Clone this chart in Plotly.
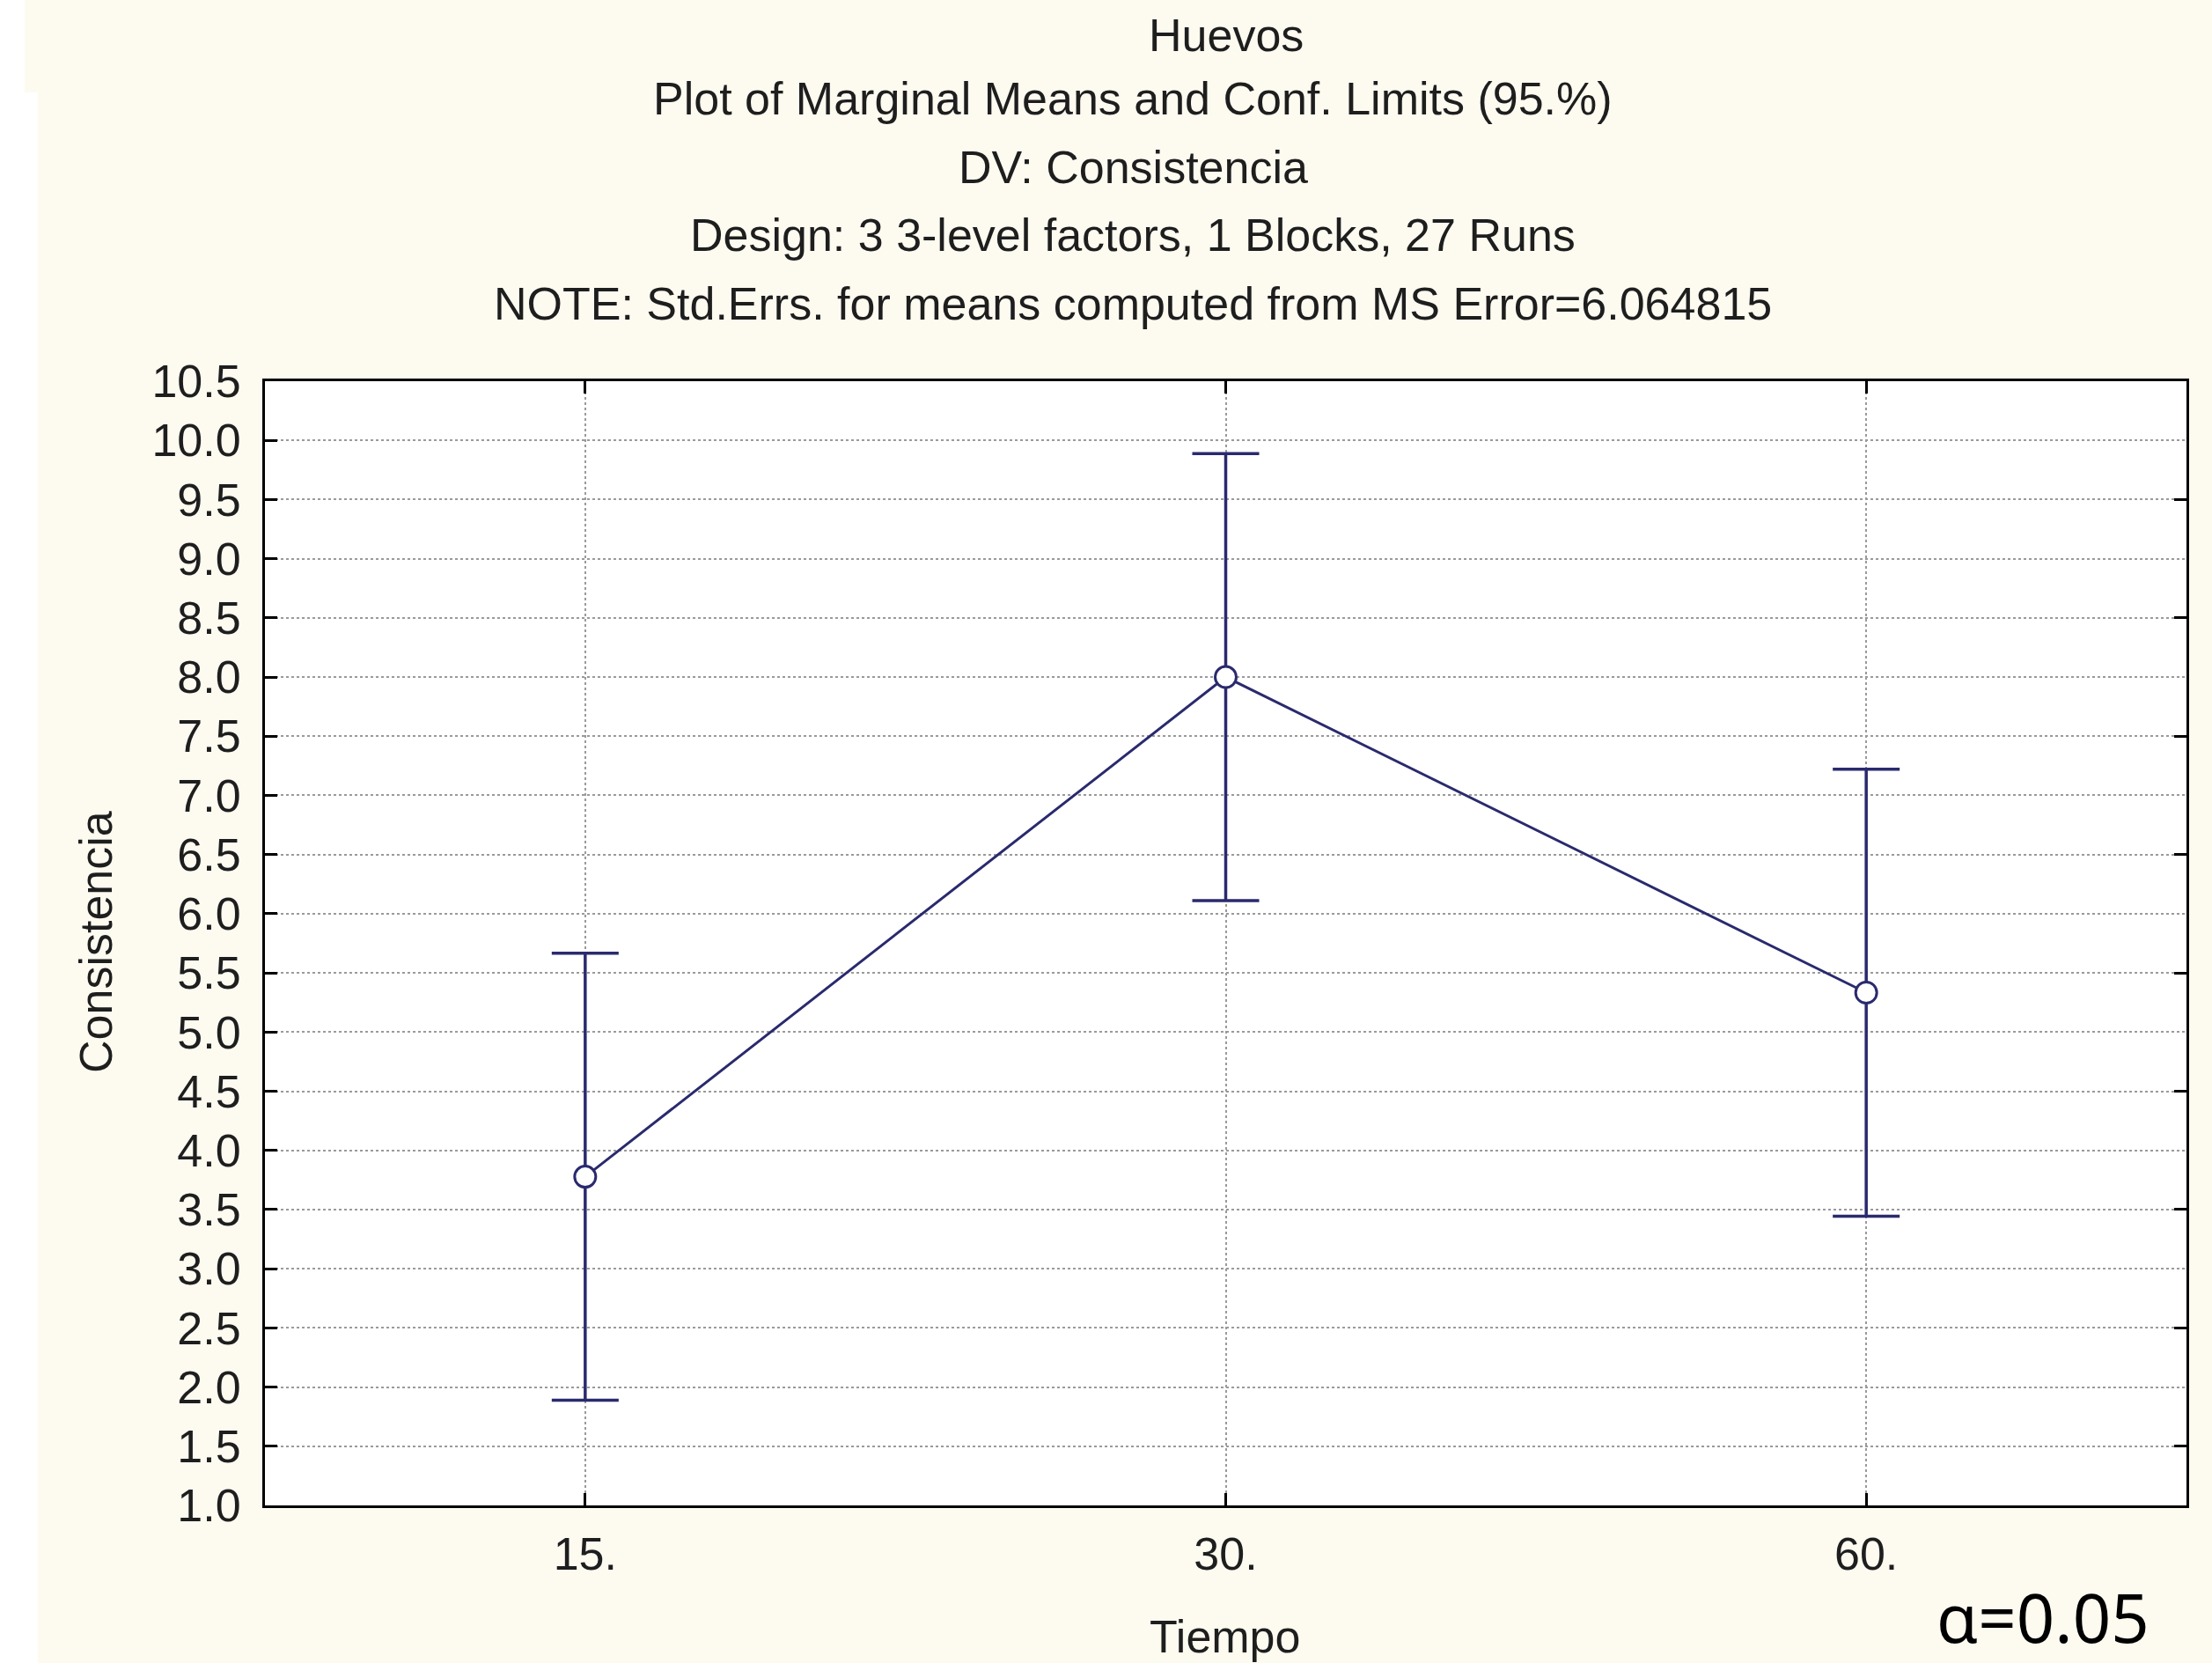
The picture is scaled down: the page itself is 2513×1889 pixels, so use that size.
import plotly.graph_objects as go

# ---- data ----
tiempo = ["15.", "30.", "60."]
means = [3.7778, 8.0, 5.3333]
ci_upper = [5.666, 9.889, 7.222]
ci_lower = [1.889, 6.111, 3.444]

title_lines = [
    "Plot of Marginal Means and Conf. Limits (95.%)",
    "DV: Consistencia",
    "Design: 3 3-level factors, 1 Blocks, 27 Runs",
    "NOTE: Std.Errs. for means computed from MS Error=6.064815",
]
main_title = "Huevos"
y_ticks = [1.0 + 0.5 * i for i in range(20)]
y_right_ticks = [1.5 + 1.0 * i for i in range(9)]

W, H = 2513, 1889
L, R, T, B = 301, 29, 433, 179
pw, ph = W - L - R, H - T - B

def px(x):
    return (x - L) / pw

def py(y):
    return (H - B - y) / ph

navy = "#2A2A6E"
font = "Liberation Sans, Arial, sans-serif"
txt = "#1E1E1E"
fs = 52

err_plus = [u - m for u, m in zip(ci_upper, means)]
err_minus = [m - l for m, l in zip(means, ci_lower)]

fig = go.Figure()
fig.add_trace(go.Scatter(
    x=tiempo, y=means, mode="lines+markers",
    line=dict(color=navy, width=3),
    marker=dict(symbol="circle", size=24, color="white", line=dict(color=navy, width=3)),
    error_y=dict(type="data", symmetric=False, array=err_plus, arrayminus=err_minus,
                 color=navy, thickness=3.5, width=38),
    showlegend=False,
))
# invisible trace for right-side ticks
fig.add_trace(go.Scatter(x=tiempo, y=means, yaxis="y2", mode="markers",
                         marker=dict(opacity=0), showlegend=False, hoverinfo="skip"))

fig.update_layout(
    width=W, height=H,
    margin=dict(l=L, r=R, t=T, b=B, autoexpand=False),
    paper_bgcolor="#FDFAF0",
    plot_bgcolor="white",
    font=dict(family=font, size=fs, color=txt),
    xaxis=dict(
        type="category", categoryorder="array", categoryarray=tiempo,
        range=[-0.5, 2.5], showline=True, linecolor="black", linewidth=3,
        mirror="ticks", ticks="inside", ticklen=14, tickwidth=3, tickcolor="black",
        showgrid=True, gridcolor="#9A9A9A", griddash="dot", gridwidth=2,
        tickfont=dict(size=fs, color=txt), zeroline=False, ticklabelstandoff=8,
    ),
    yaxis=dict(
        range=[1.0, 10.5], tickvals=y_ticks, ticktext=[f"{v:.1f}" for v in y_ticks],
        showline=True, linecolor="black", linewidth=3, mirror=True,
        ticks="inside", ticklen=14, tickwidth=3, tickcolor="black",
        showgrid=True, gridcolor="#9A9A9A", griddash="dot", gridwidth=2,
        tickfont=dict(size=fs, color=txt), zeroline=False, ticklabelstandoff=14,
    ),
    yaxis2=dict(
        overlaying="y", side="right", range=[1.0, 10.5], tickvals=y_right_ticks,
        showticklabels=False, ticks="inside", ticklen=14, tickwidth=3, tickcolor="black",
        showgrid=False, zeroline=False, showline=False,
    ),
)

annotations = [
    dict(text=main_title, x=0.5, y=py(40)),
]
for i, line in enumerate(title_lines):
    annotations.append(dict(text=line, x=px(1287), y=py(112 + 77.5 * i)))
for a in annotations:
    a.update(xref="paper", yref="paper", xanchor="center", yanchor="middle",
             showarrow=False, font=dict(size=fs, color=txt, family=font))
annotations.append(dict(text="Consistencia", x=px(109), y=py(1070), xref="paper", yref="paper",
                        textangle=-90, showarrow=False, xanchor="center", yanchor="middle",
                        font=dict(size=fs, color=txt, family=font)))
annotations.append(dict(text="Tiempo", x=px(1391), y=py(1859), xref="paper", yref="paper",
                        showarrow=False, xanchor="center", yanchor="middle",
                        font=dict(size=fs, color=txt, family=font)))
annotations.append(dict(text="α=0.05", x=px(2321), y=py(1836), xref="paper", yref="paper",
                        showarrow=False, xanchor="center", yanchor="middle",
                        font=dict(size=76, color="black", family="Noto Sans, sans-serif")))
fig.update_layout(annotations=annotations)

# white strip on the left edge of the scanned picture
fig.add_shape(type="rect", xref="paper", yref="paper", x0=px(0), x1=px(28), y0=py(105), y1=py(0),
              fillcolor="white", line_width=0, layer="below")
fig.add_shape(type="rect", xref="paper", yref="paper", x0=px(0), x1=px(43), y0=py(H), y1=py(105),
              fillcolor="white", line_width=0, layer="below")

fig.write_html("out.html", config={"displayModeBar": False},
               post_script="document.body.style.margin='0';")
